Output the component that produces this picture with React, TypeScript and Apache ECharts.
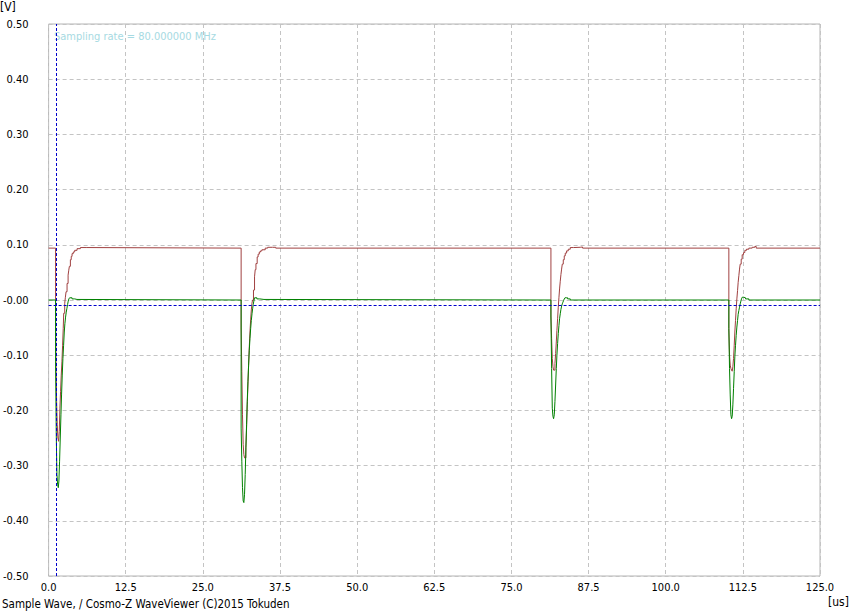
import React, { useEffect, useRef } from "react";
import * as echarts from "echarts";

// ---- axis ticks ----
const xTicks = [0, 12.5, 25, 37.5, 50, 62.5, 75, 87.5, 100, 112.5, 125];
const yMin = -0.5;
const yMax = 0.5;
const yStep = 0.1;

// ---- cursor lines ----
const cursorTime = 1.16;
const cursorLevel = -0.01;

// ---- red channel (time us, volt) ----
const redPulse1 = [
  [0, 0.094], [1.13, -0.04], [1.21, -0.13], [1.3, -0.184], [1.4, -0.226], [1.51, -0.25], [1.62, -0.256],
  [1.73, -0.238], [1.83, -0.196], [1.94, -0.166], [2.05, -0.136], [2.16, -0.112], [2.27, -0.082],
  [2.37, -0.052], [2.45, -0.024], [2.61, -0.006], [2.72, 0.005], [2.83, 0.015], [2.99, 0.03],
  [3.16, 0.045], [3.27, 0.054], [3.37, 0.061], [3.53, 0.073], [3.67, 0.079], [3.8, 0.084],
  [4.0, 0.087], [4.23, 0.09], [4.61, 0.093], [5.15, 0.095], [6.2, 0.094],
];
const redPulse2 = [
  [31.2, -0.049], [31.31, -0.13], [31.42, -0.208], [31.53, -0.262], [31.64, -0.28], [31.75, -0.286],
  [31.86, -0.286], [31.97, -0.268], [32.08, -0.232], [32.19, -0.19], [32.3, -0.154], [32.41, -0.118],
  [32.52, -0.085], [32.63, -0.058], [32.74, -0.036], [32.85, -0.018], [32.95, -0.006], [33.05, 0.0],
  [33.2, 0.018], [33.37, 0.042], [33.48, 0.055], [33.6, 0.066], [33.8, 0.078], [33.95, 0.083],
  [34.14, 0.087], [34.35, 0.089], [34.57, 0.091], [35.1, 0.094], [35.5, 0.0955], [36.3, 0.0955],
  [36.8, 0.094],
];
const redPulse3 = [
  [81.4, -0.029], [81.51, -0.07], [81.62, -0.106], [81.73, -0.121], [81.83, -0.127], [81.94, -0.127],
  [82.05, -0.115], [82.16, -0.097], [82.27, -0.076], [82.37, -0.055], [82.48, -0.034], [82.59, -0.013],
  [82.7, 0.005], [82.8, 0.02], [82.91, 0.034], [83.02, 0.046], [83.13, 0.056], [83.24, 0.065],
  [83.4, 0.073], [83.56, 0.08], [83.72, 0.085], [83.94, 0.089], [84.21, 0.092], [84.53, 0.095],
  [85.07, 0.0955], [86.15, 0.096], [86.53, 0.094],
];
const redPulse4 = [
  [110.23, -0.052], [110.34, -0.1], [110.45, -0.118], [110.56, -0.124], [110.67, -0.127], [110.77, -0.129],
  [110.88, -0.121], [110.99, -0.106], [111.1, -0.082], [111.2, -0.058], [111.31, -0.037], [111.42, -0.016],
  [111.53, 0.002], [111.64, 0.017], [111.74, 0.032], [111.85, 0.044], [111.96, 0.056], [112.07, 0.065],
  [112.23, 0.074], [112.39, 0.082], [112.61, 0.086], [112.82, 0.09], [113.09, 0.092], [113.47, 0.094],
  [114.01, 0.0955], [114.44, 0.097], [114.66, 0.094], [125, 0.094],
];

// ---- green channel (time us, volt) ----
const greenPulse1 = [
  [0, 0], [1.13, -0.112], [1.24, -0.244], [1.35, -0.316], [1.46, -0.334], [1.57, -0.34], [1.67, -0.328],
  [1.78, -0.292], [1.89, -0.25], [2.0, -0.208], [2.1, -0.172], [2.21, -0.136], [2.32, -0.106],
  [2.43, -0.082], [2.54, -0.058], [2.64, -0.043], [2.75, -0.031], [2.86, -0.022], [2.97, -0.015],
  [3.08, -0.008], [3.18, -0.002], [3.29, 0.002], [3.4, 0.004], [3.8, 0.002], [4.23, 0.001], [4.6, 0],
];
const greenPulse2 = [
  [31.2, -0.232], [31.31, -0.292], [31.42, -0.34], [31.53, -0.364], [31.64, -0.367], [31.75, -0.352],
  [31.86, -0.316], [31.97, -0.268], [32.08, -0.226], [32.19, -0.184], [32.3, -0.148], [32.41, -0.118],
  [32.52, -0.091], [32.63, -0.07], [32.74, -0.052], [32.85, -0.037], [32.96, -0.025], [33.06, -0.016],
  [33.16, -0.008], [33.26, -0.002], [33.37, 0.004], [33.75, 0.002], [34.2, 0.001], [34.9, 0],
];
const greenPulse3 = [
  [81.4, -0.029], [81.51, -0.124], [81.62, -0.196], [81.73, -0.211], [81.83, -0.215], [81.94, -0.208],
  [82.05, -0.184], [82.16, -0.154], [82.27, -0.124], [82.37, -0.1], [82.48, -0.079], [82.59, -0.061],
  [82.7, -0.046], [82.8, -0.034], [82.91, -0.025], [83.02, -0.017], [83.13, -0.011], [83.24, -0.007],
  [83.34, -0.004], [83.45, -0.001], [83.56, 0.002], [83.67, 0.004], [83.88, 0.004], [84.1, 0.002], [84.53, 0],
];
const greenPulse4 = [
  [110.23, -0.052], [110.34, -0.124], [110.45, -0.172], [110.56, -0.208], [110.67, -0.215], [110.77, -0.211],
  [110.88, -0.19], [110.99, -0.16], [111.1, -0.13], [111.2, -0.103], [111.31, -0.082], [111.42, -0.064],
  [111.53, -0.049], [111.64, -0.037], [111.74, -0.026], [111.85, -0.019], [111.96, -0.013], [112.07, -0.007],
  [112.18, -0.002], [112.28, 0.002], [112.39, 0.005], [112.66, 0.004], [112.93, 0.002], [113.47, 0], [125, 0],
];

// ---- texts ----
const yUnit = "[V]";
const xUnit = "[us]";
const samplingText = "Sampling rate = 80.000000 MHz";
const footerText = "Sample Wave, / Cosmo-Z WaveViewer (C)2015 Tokuden";

const FONT = '"Liberation Sans Narrow", "Arial Narrow", "DejaVu Sans Condensed", sans-serif';

export default function App() {
  const ref = useRef<HTMLDivElement>(null);

  useEffect(() => {
    if (!ref.current) return;
    const chart = echarts.init(ref.current, null, { renderer: "svg" });
    const red = [...redPulse1, ...redPulse2, ...redPulse3, ...redPulse4];
    const green = [...greenPulse1, ...greenPulse2, ...greenPulse3, ...greenPulse4];

    chart.setOption({
      animation: false,
      backgroundColor: "#ffffff",
      grid: {
        left: 48,
        right: 48,
        top: 24,
        bottom: 39,
        show: true,
        borderColor: "#b4b4b4",
        borderWidth: 1,
        backgroundColor: "transparent",
      },
      xAxis: {
        type: "value",
        min: xTicks[0],
        max: xTicks[xTicks.length - 1],
        interval: xTicks[1] - xTicks[0],
        axisLine: { show: false },
        axisTick: { show: false },
        axisLabel: {
          color: "#000",
          fontFamily: FONT,
          fontSize: 11,
          margin: 6,
          formatter: (v: number) => v.toFixed(1),
        },
        splitLine: { show: true, lineStyle: { color: "#c4c4c4", type: [4, 3], width: 1 } },
      },
      yAxis: {
        type: "value",
        min: yMin,
        max: yMax,
        interval: yStep,
        axisLine: { show: false },
        axisTick: { show: false },
        axisLabel: {
          color: "#000",
          fontFamily: FONT,
          fontSize: 11,
          margin: 20,
          formatter: (v: number) => (Math.abs(v) < 1e-9 ? "-0.00" : v.toFixed(2)),
        },
        splitLine: { show: true, lineStyle: { color: "#c4c4c4", type: [4, 3], width: 1 } },
      },
      graphic: [
        { type: "text", left: 0, top: 1, style: { text: yUnit, fill: "#000", font: `12px ${FONT}` } },
        {
          type: "text",
          x: 54,
          y: 36,
          style: { text: samplingText, fill: "#a6dae2", font: `11px ${FONT}`, verticalAlign: "middle" },
        },
        {
          type: "text",
          x: 2,
          y: 604,
          style: { text: footerText, fill: "#000", font: `11.5px ${FONT}`, verticalAlign: "middle" },
        },
        {
          type: "text",
          x: 828,
          y: 602,
          style: { text: xUnit, fill: "#000", font: `12px ${FONT}`, verticalAlign: "middle" },
        },
      ],
      series: [
        {
          type: "line",
          name: "red",
          data: red,
          step: "end",
          symbol: "none",
          lineStyle: { color: "#a04040", width: 1 },
          z: 3,
        },
        {
          type: "line",
          name: "green",
          data: green,
          step: "end",
          symbol: "none",
          lineStyle: { color: "#008000", width: 1 },
          z: 4,
          markLine: {
            silent: true,
            symbol: "none",
            label: { show: false },
            lineStyle: { color: "#0000cc", type: [3, 2], width: 1 },
            data: [{ xAxis: cursorTime }, { yAxis: cursorLevel }],
          },
        },
      ],
    });
    return () => chart.dispose();
  }, []);

  return (
    <div
      ref={ref}
      style={{ position: "fixed", left: 0, top: 0, width: 868, height: 615 }}
    />
  );
}
